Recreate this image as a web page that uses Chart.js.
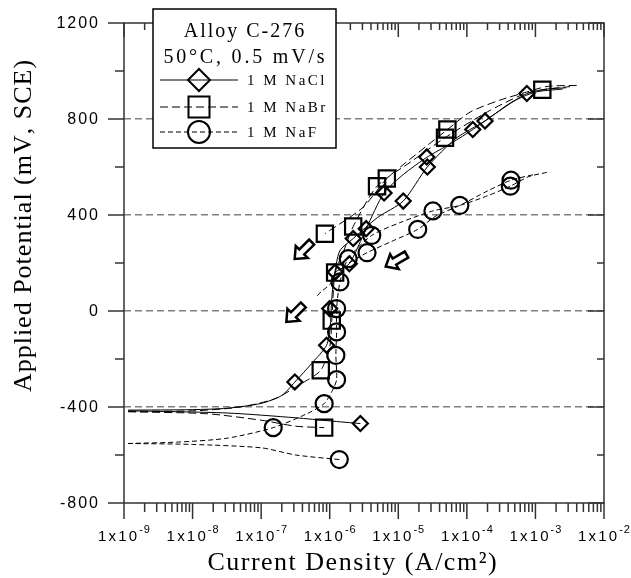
<!DOCTYPE html>
<html>
<head>
<meta charset="utf-8">
<script src="https://cdn.jsdelivr.net/npm/chart.js@4.4.1/dist/chart.umd.min.js"></script>
<style>
  html, body { margin: 0; padding: 0; background: #fff; }
  #wrap { width: 631px; height: 578px; }
</style>
</head>
<body>
<div id="wrap"><canvas id="polC276"></canvas></div>
<script>
// current density (A/cm2) vs applied potential (mV SCE)

// 1 M NaCl, solid line, diamonds
var naclUpI = [1.15e-9, 1e-8, 3.2e-8, 1e-7, 2.0e-7, 3.1e-7, 5.6e-7, 9.0e-7, 1.02e-6, 1.05e-6, 1.1e-6, 1.2e-6, 1.93e-6, 3.4e-6, 6.2e-6, 1.2e-5, 2.6e-5, 6.0e-5, 1.22e-4, 3.2e-4, 7.5e-4, 1.5e-3, 2.8e-3];
var naclUpE = [-413, -411, -405, -385, -352, -296, -215, -143, -60, 10, 90, 160, 197, 343, 492, 570, 640, 700, 756, 840, 906, 925, 930];
var naclUp2I = [1.15e-6, 1.4e-6, 2.2e-6, 5.0e-6, 1.18e-5, 2.65e-5, 7.0e-5, 1.84e-4, 4.5e-4, 1.0e-3, 2.5e-3];
var naclUp2E = [140, 250, 302, 390, 458, 600, 720, 792, 870, 912, 925];
var naclLowI = [1.15e-9, 3.2e-8, 3.2e-7, 1.0e-6, 2.8e-6];
var naclLowE = [-416, -425, -445, -458, -469];
var naclMarkI = [3.1e-7, 9.0e-7, 1.0e-6, 1.2e-6, 1.93e-6, 2.2e-6, 3.4e-6, 6.2e-6, 1.18e-5, 2.6e-5, 2.65e-5, 1.22e-4, 1.84e-4, 7.5e-4, 2.8e-6];
var naclMarkE = [-296, -143, 10, 162, 197, 302, 343, 492, 458, 642, 600, 756, 792, 906, -469];

// 1 M NaBr, long dashes, squares
var nabrUpI = [1.15e-9, 1e-8, 5e-8, 1.6e-7, 4.0e-7, 7.4e-7, 1.0e-6, 1.07e-6, 1.12e-6, 1.2e-6, 1.6e-6, 2.2e-6, 4.9e-6, 1.5e-5, 4.8e-5, 2.0e-4, 6.3e-4, 1.26e-3, 3.2e-3];
var nabrUpE = [-418, -416, -400, -365, -300, -247, -150, -40, 60, 160, 250, 352, 520, 620, 722, 830, 900, 922, 935];
var nabrDownI = [4.0e-3, 1.5e-3, 7.4e-4, 3.0e-4, 1.12e-4, 5.2e-5, 1.07e-5, 6.8e-6, 3.0e-6, 8.5e-7];
var nabrDownE = [940, 936, 912, 878, 829, 756, 600, 552, 430, 322];
var nabrLowI = [1.15e-9, 1.6e-8, 1.0e-7, 3.2e-7, 8.3e-7];
var nabrLowE = [-420, -428, -455, -480, -486];
var nabrMarkI = [8.5e-7, 2.2e-6, 4.9e-6, 6.8e-6, 4.8e-5, 5.2e-5, 1.26e-3, 1.07e-6, 7.4e-7, 8.3e-7, 1.2e-6];
var nabrMarkE = [322, 352, 520, 552, 722, 756, 922, -40, -247, -486, 160];

// 1 M NaF, short dashes, circles
var nafCathI = [1.38e-6, 3.2e-7, 1.0e-7, 1.0e-8, 1.15e-9];
var nafCathE = [-619, -600, -570, -556, -552];
var nafUpI = [1.15e-9, 6.3e-9, 3.2e-8, 1.5e-7, 4.5e-7, 8.3e-7, 1.1e-6, 1.26e-6, 1.23e-6, 1.26e-6, 1.26e-6, 1.41e-6, 1.86e-6, 4.1e-6, 1.1e-5, 3.2e-5, 7.9e-5, 2.0e-4, 4.3e-4, 8.0e-4, 1.48e-3];
var nafUpE = [-552, -546, -530, -486, -430, -386, -330, -286, -185, -87, 10, 121, 218, 315, 370, 417, 440, 480, 520, 560, 578];
var nafUp2I = [1.9e-6, 3.5e-6, 8.0e-6, 1.92e-5, 3.5e-5, 7.9e-5, 2.0e-4, 4.4e-4, 1.0e-3];
var nafUp2E = [200, 243, 290, 340, 395, 440, 500, 545, 570];
var nafBackI = [1.3e-6, 1.0e-6, 7.5e-7, 6.2e-7];
var nafBackE = [150, 110, 80, 57];
var nafMarkI = [1.26e-6, 1.41e-6, 1.86e-6, 3.5e-6, 4.1e-6, 1.92e-5, 3.2e-5, 7.9e-5, 4.4e-4, 4.3e-4, 1.26e-6, 1.23e-6, 1.26e-6, 8.3e-7, 1.5e-7, 1.38e-6];
var nafMarkE = [10, 121, 218, 243, 315, 340, 417, 440, 545, 520, -87, -185, -286, -386, -486, -619];

// scan direction arrows
var arrowI = [4.1e-7, 3.1e-7, 9.3e-6];
var arrowE = [252, -10, 210];
var arrowDeg = [135, 135, 150];

var legendTitle = ['Alloy C-276', '50\u00B0C, 0.5 mV/s'];
var legendNames = ['1 M NaCl', '1 M NaBr', '1 M NaF'];
var xTickExps = [-9, -8, -7, -6, -5, -4, -3, -2];
var yTickVals = [-800, -400, 0, 400, 800, 1200];
var gridVals = [-400, 0, 400, 800];

function pts(xs, ys) {
    return xs.map(function (x, i) { return { x: x, y: ys[i] }; });
}
function curve(xs, ys, dash) {
    return {
        data: pts(xs, ys), showLine: true, borderColor: '#000', borderWidth: 1,
        borderDash: dash, pointRadius: 0, tension: 0.25
    };
}
function marks(xs, ys, style, r) {
    return {
        data: pts(xs, ys), showLine: false, pointStyle: style, pointRadius: r,
        pointBorderColor: '#000', pointBorderWidth: 2.2, pointBackgroundColor: 'rgba(0,0,0,0)'
    };
}

function spaced(c, str, x, y, sp, align) {
    var w = [], tot = 0;
    for (var i = 0; i < str.length; i++) { w.push(c.measureText(str[i]).width); tot += w[i]; }
    tot += sp * (str.length - 1);
    var px = align === 'center' ? x - tot / 2 : (align === 'right' ? x - tot : x);
    c.textAlign = 'left';
    for (var j = 0; j < str.length; j++) { c.fillText(str[j], px, y); px += w[j] + sp; }
    return tot;
}
function seg(c, x1, y1, x2, y2) {
    c.beginPath(); c.moveTo(x1, y1); c.lineTo(x2, y2); c.stroke();
}
function mark(c, style, x, y, r) {
    c.beginPath();
    if (style === 'rectRot') {
        c.moveTo(x - r, y); c.lineTo(x, y - r); c.lineTo(x + r, y); c.lineTo(x, y + r); c.closePath();
    } else if (style === 'rect') {
        c.rect(x - r, y - r, 2 * r, 2 * r);
    } else {
        c.arc(x, y, r, 0, Math.PI * 2);
    }
    c.stroke();
}

var paper = {
    id: 'paper',
    beforeDraw: function (chart) {
        var c = chart.ctx;
        c.save(); c.fillStyle = '#fff'; c.fillRect(0, 0, chart.width, chart.height); c.restore();
    },
    afterDraw: function (chart) {
        var c = chart.ctx, a = chart.chartArea, sx = chart.scales.x, sy = chart.scales.y;
        c.save();
        c.setLineDash([]);
        c.strokeStyle = '#333';
        c.lineWidth = 1.5;
        c.strokeRect(a.left, a.top, a.right - a.left, a.bottom - a.top);

        // log ticks on bottom (outside) and top (inside)
        for (var e = -9; e <= -2; e++) {
            for (var k = 1; k <= 9; k++) {
                if (e === -2 && k > 1) break;
                var px = sx.getPixelForValue(k * Math.pow(10, e));
                seg(c, px, a.bottom, px, a.bottom + (k === 1 ? 16 : 9));
                seg(c, px, a.top, px, a.top + (k === 1 ? 14 : 7));
            }
        }
        // y ticks left (outside) and right (inside)
        for (var v = -800; v <= 1200; v += 200) {
            var py = sy.getPixelForValue(v);
            var big = v % 400 === 0;
            seg(c, a.left - (big ? 16 : 9), py, a.left, py);
            seg(c, a.right - (big ? 16 : 7), py, a.right, py);
        }

        c.fillStyle = '#000';
        c.textBaseline = 'alphabetic';
        // x tick labels 1x10^n
        xTickExps.forEach(function (n) {
            var px = sx.getPixelForValue(Math.pow(10, n));
            c.font = '15px "Liberation Sans", Arial, sans-serif';
            var wb = 0, base = '1x10';
            for (var i = 0; i < base.length; i++) wb += c.measureText(base[i]).width;
            wb += 2.2 * (base.length - 1);
            c.font = '11px "Liberation Sans", Arial, sans-serif';
            var ex = String(n);
            var we = c.measureText(ex).width + (ex.length - 1);
            var x0 = px - (wb + 2 + we) / 2;
            c.font = '15px "Liberation Sans", Arial, sans-serif';
            spaced(c, base, x0, 541, 2.2, 'left');
            c.font = '11px "Liberation Sans", Arial, sans-serif';
            spaced(c, ex, x0 + wb + 2, 533, 1, 'left');
        });
        // y tick labels
        c.font = '16px "Liberation Sans", Arial, sans-serif';
        c.textBaseline = 'middle';
        yTickVals.forEach(function (v) {
            spaced(c, String(v), 98, sy.getPixelForValue(v) + 1, 2, 'right');
        });

        // axis titles
        c.textBaseline = 'alphabetic';
        c.font = '26px "Liberation Serif", "Times New Roman", serif';
        spaced(c, 'Current Density (A/cm\u00B2)', 352, 570, 1.5, 'center');
        c.save();
        c.translate(31, 226);
        c.rotate(-Math.PI / 2);
        spaced(c, 'Applied Potential (mV, SCE)', 0, 0, 1, 'center');
        c.restore();

        // scan direction arrows
        for (var q = 0; q < arrowI.length; q++) {
            var ax = sx.getPixelForValue(arrowI[q]), ay = sy.getPixelForValue(arrowE[q]);
            c.save();
            c.translate(ax, ay);
            c.rotate(arrowDeg[q] * Math.PI / 180);
            c.beginPath();
            c.moveTo(-12, -3.5); c.lineTo(2, -3.5); c.lineTo(2, -8.5); c.lineTo(12, 0);
            c.lineTo(2, 8.5); c.lineTo(2, 3.5); c.lineTo(-12, 3.5); c.closePath();
            c.fillStyle = '#fff'; c.fill();
            c.strokeStyle = '#000'; c.lineWidth = 2.5; c.lineJoin = 'miter'; c.stroke();
            c.restore();
        }

        // legend box
        c.fillStyle = '#fff';
        c.fillRect(153, 9, 183, 139);
        c.strokeStyle = '#000';
        c.lineWidth = 1.5;
        c.strokeRect(153, 9, 183, 139);
        c.fillStyle = '#000';
        c.font = '20px "Liberation Serif", "Times New Roman", serif';
        spaced(c, legendTitle[0], 244, 37, 2, 'center');
        spaced(c, legendTitle[1], 244, 63, 2.8, 'center');
        var styles = ['rectRot', 'rect', 'circle'];
        var dashes = [[], [8, 4], [5, 3]];
        var rows = [80, 107, 132];
        var sizes = [11, 10.5, 11];
        c.font = '15px "Liberation Serif", "Times New Roman", serif';
        for (var r = 0; r < 3; r++) {
            c.lineWidth = 1;
            c.setLineDash(dashes[r]);
            seg(c, 160, rows[r], 238, rows[r]);
            c.setLineDash([]);
            c.lineWidth = 2;
            mark(c, styles[r], 199, rows[r], sizes[r]);
            spaced(c, legendNames[r], 247, rows[r] + 5, 2.5, 'left');
        }
        c.restore();
    }
};

new Chart(document.getElementById('polC276'), {
    type: 'scatter',
    data: {
        datasets: [
            curve(naclUpI, naclUpE, []),
            curve(naclUp2I, naclUp2E, []),
            curve(naclLowI, naclLowE, []),
            curve(nabrUpI, nabrUpE, [8, 4]),
            curve(nabrDownI, nabrDownE, [8, 4]),
            curve(nabrLowI, nabrLowE, [8, 4]),
            curve(nafCathI, nafCathE, [5, 3]),
            curve(nafUpI, nafUpE, [5, 3]),
            curve(nafUp2I, nafUp2E, [5, 3]),
            curve(nafBackI, nafBackE, [5, 3]),
            marks(naclMarkI, naclMarkE, 'rectRot', 7.5),
            marks(nabrMarkI, nabrMarkE, 'rect', 11.5),
            marks(nafMarkI, nafMarkE, 'circle', 8.5)
        ]
    },
    options: {
        responsive: true,
        maintainAspectRatio: false,
        animation: false,
        devicePixelRatio: 1,
        layout: { padding: { top: 23, right: 27, left: 0, bottom: 0 } },
        plugins: { legend: { display: false }, tooltip: { enabled: false } },
        scales: {
            x: {
                type: 'logarithmic',
                min: 1e-9,
                max: 1e-2,
                ticks: { display: false },
                grid: { display: false },
                border: { display: false },
                afterFit: function (s) { s.height = 75; }
            },
            y: {
                min: -800,
                max: 1200,
                ticks: { display: false, stepSize: 200 },
                grid: {
                    drawTicks: false,
                    lineWidth: 1.5,
                    color: function (ctx) {
                        return gridVals.indexOf(ctx.tick.value) >= 0 ? '#808080' : 'rgba(0,0,0,0)';
                    }
                },
                border: { display: false, dash: [7, 4] },
                afterFit: function (s) { s.width = 124; }
            }
        }
    },
    plugins: [paper]
});
</script>
</body>
</html>
